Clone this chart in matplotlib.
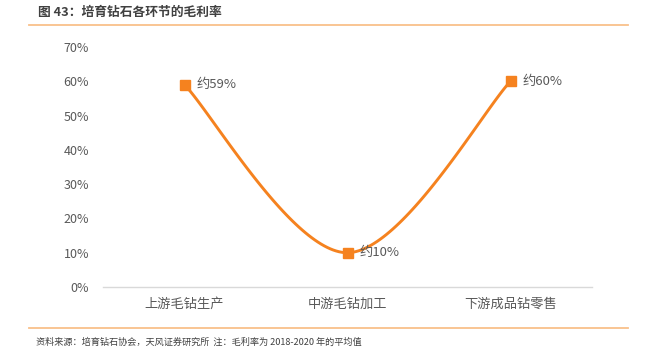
import numpy as np
import matplotlib
matplotlib.use('Agg')
import matplotlib.pyplot as plt
from matplotlib.lines import Line2D

plt.rcParams['font.family'] = ['Noto Sans CJK SC', 'DejaVu Sans']

# data
categories = ['上游毛钻生产', '中游毛钻加工', '下游成品钻零售']
margins = [0.59, 0.10, 0.60]
point_labels = ['约59%', '约10%', '约60%']
yticks = [0, 0.1, 0.2, 0.3, 0.4, 0.5, 0.6, 0.7]

ORANGE = '#F5821F'
GRID_GREY = '#D9D9D9'
TEXT_GREY = '#595959'
RULE = '#F9C08A'


def smooth_curve(xs, ys, n=60):
    """Excel-style smoothed line: bezier segments with catmull-rom controls."""
    pts = np.column_stack([xs, ys]).astype(float)
    out = []
    for i in range(len(pts) - 1):
        p_prev = pts[i - 1] if i > 0 else pts[i]
        p0, p1 = pts[i], pts[i + 1]
        p_next = pts[i + 2] if i + 2 < len(pts) else pts[i + 1]
        c1 = p0 + (p1 - p_prev) / 6
        c2 = p1 - (p_next - p0) / 6
        t = np.linspace(0, 1, n)[:, None]
        seg = ((1 - t) ** 3) * p0 + 3 * ((1 - t) ** 2) * t * c1 \
            + 3 * (1 - t) * t ** 2 * c2 + t ** 3 * p1
        out.append(seg if i == 0 else seg[1:])
    curve = np.vstack(out)
    return curve[:, 0], curve[:, 1]


fig = plt.figure(figsize=(6.47, 3.64), dpi=100)
ax = fig.add_axes([103 / 647, 1 - 287 / 364, 489 / 647, 240 / 364])

x = np.arange(len(categories))
cx, cy = smooth_curve(x, margins)
ax.plot(cx, cy, color=ORANGE, lw=2.1, solid_capstyle='round', zorder=2)
ax.plot(x, margins, ls='none', marker='s', ms=7.5, color=ORANGE, zorder=3)

for xi, yi, lab in zip(x, margins, point_labels):
    ax.annotate(lab, (xi, yi), xytext=(9, 0), textcoords='offset points',
                ha='left', va='center', fontsize=9.5, color=TEXT_GREY)

ax.set_xlim(-0.5, 2.5)
ax.set_ylim(0, 0.7)
ax.set_yticks(yticks)
ax.set_yticklabels([f'{int(round(v * 100))}%' for v in yticks])
ax.set_xticks(x)
ax.set_xticklabels(categories)
ax.tick_params(axis='both', length=0, colors=TEXT_GREY)
ax.tick_params(axis='y', pad=10, labelsize=9)
ax.tick_params(axis='x', pad=8, labelsize=9.5)

for side in ['top', 'right', 'left']:
    ax.spines[side].set_visible(False)
ax.spines['bottom'].set_color(GRID_GREY)
ax.spines['bottom'].set_linewidth(1)

# title and footer
fig.text(38 / 647, 1 - 12 / 364, '图 43：培育钻石各环节的毛利率', fontsize=9.2,
         fontweight='bold', color='#404040', ha='left', va='center')
fig.add_artist(Line2D([29 / 647, 628 / 647], [1 - 25 / 364, 1 - 25 / 364],
                      color=RULE, lw=1.3))
fig.add_artist(Line2D([29 / 647, 628 / 647], [1 - 328 / 364, 1 - 328 / 364],
                      color=RULE, lw=1.3))
fig.text(36 / 647, 1 - 342 / 364,
         '资料来源：培育钻石协会，天风证券研究所  注：毛利率为 2018-2020 年的平均值',
         fontsize=6.6, color='#404040', ha='left', va='center')

fig.savefig('out.png', dpi=100)
